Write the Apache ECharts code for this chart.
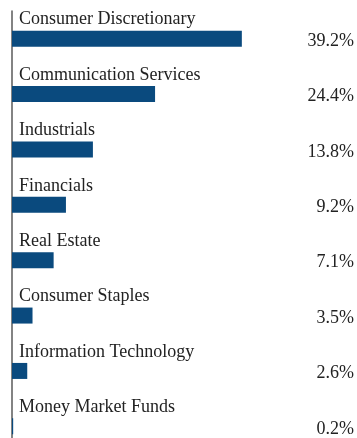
<!DOCTYPE html>
<html>
<head>
<meta charset="utf-8">
<script src="https://cdn.jsdelivr.net/npm/echarts@6/dist/echarts.min.js"></script>
<style>
  html, body { margin: 0; padding: 0; background: #fff; }
  #chart { width: 357px; height: 438px; }
</style>
</head>
<body>
<div id="chart"></div>
<script>
// Sector allocation, percent of total
const sectors = [
  'Consumer Discretionary',
  'Communication Services',
  'Industrials',
  'Financials',
  'Real Estate',
  'Consumer Staples',
  'Information Technology',
  'Money Market Funds'
];
const weights = [39.2, 24.4, 13.8, 9.2, 7.1, 3.5, 2.6, 0.2];
const weightLabels = weights.map(v => v.toFixed(1) + '%');

const FONT = "'Liberation Serif', 'Times New Roman', serif";
const TEXT = '#222';
const BAR = '#0a4a7e';

const chart = echarts.init(document.getElementById('chart'), null, { renderer: 'canvas' });
chart.setOption({
  animation: false,
  grid: [
    // bars
    { left: 12, right: 2, top: 11, height: 443, containLabel: false, outerBoundsMode: 'none' },
    // percentage column, sitting slightly lower than the bar centres
    { left: 12, right: 2, top: 13.5, height: 443, containLabel: false, outerBoundsMode: 'none' }
  ],
  xAxis: [
    { type: 'value', min: 0, max: 58.5, show: false, gridIndex: 0 },
    { type: 'value', min: 0, max: 58.5, show: false, gridIndex: 1 }
  ],
  yAxis: [
    {
      type: 'category', data: sectors, inverse: true, gridIndex: 0,
      axisLine: { show: true, lineStyle: { color: '#5a5a5a', width: 1.5 } },
      axisTick: { show: false },
      axisLabel: { show: false },
      splitLine: { show: false }
    },
    {
      type: 'category', data: weightLabels, inverse: true, gridIndex: 1,
      position: 'right',
      axisLine: { show: false },
      axisTick: { show: false },
      splitLine: { show: false },
      axisLabel: {
        inside: true, margin: 1, align: 'right',
        fontFamily: FONT, fontSize: 18, color: TEXT
      }
    }
  ],
  series: [{
    type: 'bar',
    xAxisIndex: 0, yAxisIndex: 0,
    data: weights,
    barWidth: 16,
    itemStyle: { color: BAR },
    label: {
      show: true,
      position: [7, -11],
      align: 'left',
      verticalAlign: 'middle',
      formatter: p => sectors[p.dataIndex],
      fontFamily: FONT, fontSize: 18, color: TEXT
    }
  }]
});
</script>
</body>
</html>
